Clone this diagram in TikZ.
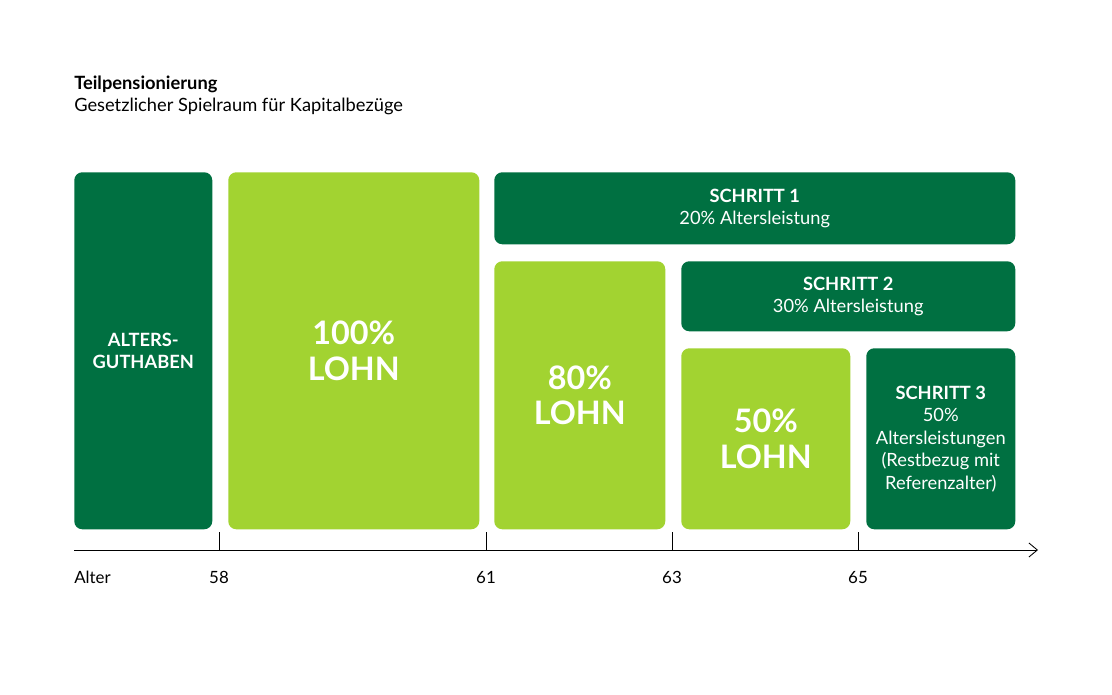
\documentclass[tikz,border=0pt]{standalone}
\usepackage{fontspec}
\setmainfont{Lato}
\usetikzlibrary{positioning, arrows.meta}
\definecolor{darkgr}{HTML}{007041}
\definecolor{lightgr}{HTML}{A2D331}
\begin{document}
\begin{tikzpicture}[
  x=0.025cm, y=-0.025cm,
  box/.style={rounded corners=0.2cm, anchor=north west, inner sep=0pt, align=center, text=white},
  dark/.style={box, fill=darkgr, font=\fontsize{13}{16}\selectfont},
  light/.style={box, fill=lightgr, font=\fontsize{23}{25}\selectfont\bfseries},
  tick/.style={font=\fontsize{12}{14}\selectfont, anchor=base}
]
\useasboundingbox (0,0) rectangle (1112,695);
% Title
\node[anchor=base west, inner sep=0pt, font=\fontsize{13}{15}\selectfont\bfseries] (title) at (74,90) {Teilpensionierung};
\node[anchor=base west, inner sep=0pt, font=\fontsize{13}{15}\selectfont] (sub) at (74,112) {Gesetzlicher Spielraum für Kapitalbezüge};
% Boxes
\node[dark, minimum width=138*0.025cm, minimum height=357*0.025cm] (guthaben) at (74,172) {};
\node[font=\fontsize{13}{16}\selectfont\bfseries, text=white, align=center] at (guthaben.center) {ALTERS-\\GUTHABEN};
\node[light, minimum width=251*0.025cm, minimum height=357*0.025cm] (lohnA) at (228,172) {100\%\\LOHN};
\node[dark, minimum width=521*0.025cm, minimum height=72*0.025cm] (schrittA) at (494,172) {\textbf{SCHRITT 1}\\20\% Altersleistung};
\node[light, minimum width=171*0.025cm, minimum height=268*0.025cm] (lohnB) at (494,261) {80\%\\LOHN};
\node[dark, minimum width=334*0.025cm, minimum height=70*0.025cm] (schrittB) at (681,261) {\textbf{SCHRITT 2}\\30\% Altersleistung};
\node[light, minimum width=169*0.025cm, minimum height=181*0.025cm] (lohnC) at (681,348) {50\%\\LOHN};
\node[dark, minimum width=149*0.025cm, minimum height=181*0.025cm] (schrittC) at (866,348) {\textbf{SCHRITT 3}\\50\%\\Altersleistungen\\(Restbezug mit\\Referenzalter)};
% Axis
\coordinate (ax0) at (74,550);
\coordinate (ax1) at (1038,550);
\draw[-{Straight Barb[length=6pt,width=10pt]}, line width=0.6pt] (ax0) -- (ax1);
\foreach \x/\t in {219/58, 486/61, 672/63, 858/65} {
  \draw[line width=0.6pt] (\x,532) -- (\x,550);
  \node[tick] at (\x,583) {\t};
}
\node[tick, anchor=base west, inner sep=0pt] (alter) at (74,583) {Alter};
\end{tikzpicture}
\end{document}
